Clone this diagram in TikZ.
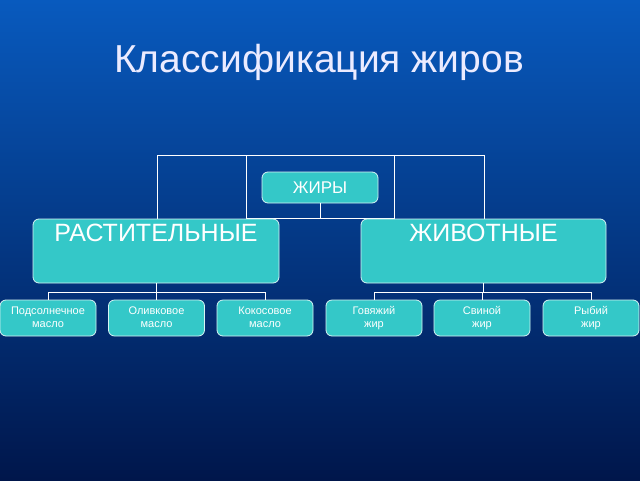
\documentclass[tikz,border=0pt]{standalone}
\usepackage{fontspec}
\setmainfont{Liberation Sans}
\definecolor{turq}{RGB}{52,200,200}
\definecolor{bgtop}{RGB}{8,90,190}
\definecolor{bgbot}{RGB}{0,22,75}
\begin{document}
\begin{tikzpicture}[x=1pt,y=-1pt,
  box/.style={draw=white!80!turq,line width=0.8pt,fill=turq,rounded corners=6pt,text=white},
  ln/.style={draw=white,line width=1pt}]
\useasboundingbox (0,0) rectangle (640,480);
\shade[top color=bgtop,bottom color=bgbot] (0,0) rectangle (640,480);
\node[text=white!92!blue,font=\fontsize{39}{44}\selectfont] (title) at (319,62) {Классификация жиров};
\draw[ln] (157,219) -- (157,155) -- (484,155) -- (484,219);
\draw[ln] (246,219) -- (246,155);
\draw[ln] (394,219) -- (394,155);
\draw[ln] (246,218) -- (394,218);
\node[box,minimum width=116pt,minimum height=31pt,font=\fontsize{17}{20}\selectfont] (zh) at (320,187.5) {ЖИРЫ};
\draw[ln] (zh.south) -- (320,218);
\node[box,minimum width=246pt,minimum height=64pt] (r) at (156,251) {};
\node[text=white,font=\fontsize{25}{28}\selectfont,anchor=north] (rt) at (156,221) {РАСТИТЕЛЬНЫЕ};
\node[box,minimum width=245pt,minimum height=64pt] (a) at (483.5,251) {};
\node[text=white,font=\fontsize{25}{28}\selectfont,anchor=north] (at) at (483.5,221) {ЖИВОТНЫЕ};
\foreach \n/\x/\t in {s1/48/{Подсолнечное\strut\\масло\strut},s2/156.5/{Оливковое\strut\\масло\strut},s3/265/{Кокосовое\strut\\масло\strut},s4/374/{Говяжий\strut\\жир\strut},s5/482/{Свиной\strut\\жир\strut},s6/591/{Рыбий\strut\\жир\strut}}{
  \node[box,minimum width=96pt,minimum height=36pt,align=center,font=\fontsize{11}{13}\selectfont,inner sep=1pt] (\n) at (\x,318) {\t};
}
\draw[ln] (r.south) -- (156,292);
\draw[ln] (s1.north) -- (48,292) -- (265,292) -- (s3.north);
\draw[ln] (s2.north) -- (156.5,292);
\draw[ln] (a.south) -- (483.5,292);
\draw[ln] (s4.north) -- (374,292) -- (591,292) -- (s6.north);
\draw[ln] (s5.north) -- (482,292);
\end{tikzpicture}
\end{document}
